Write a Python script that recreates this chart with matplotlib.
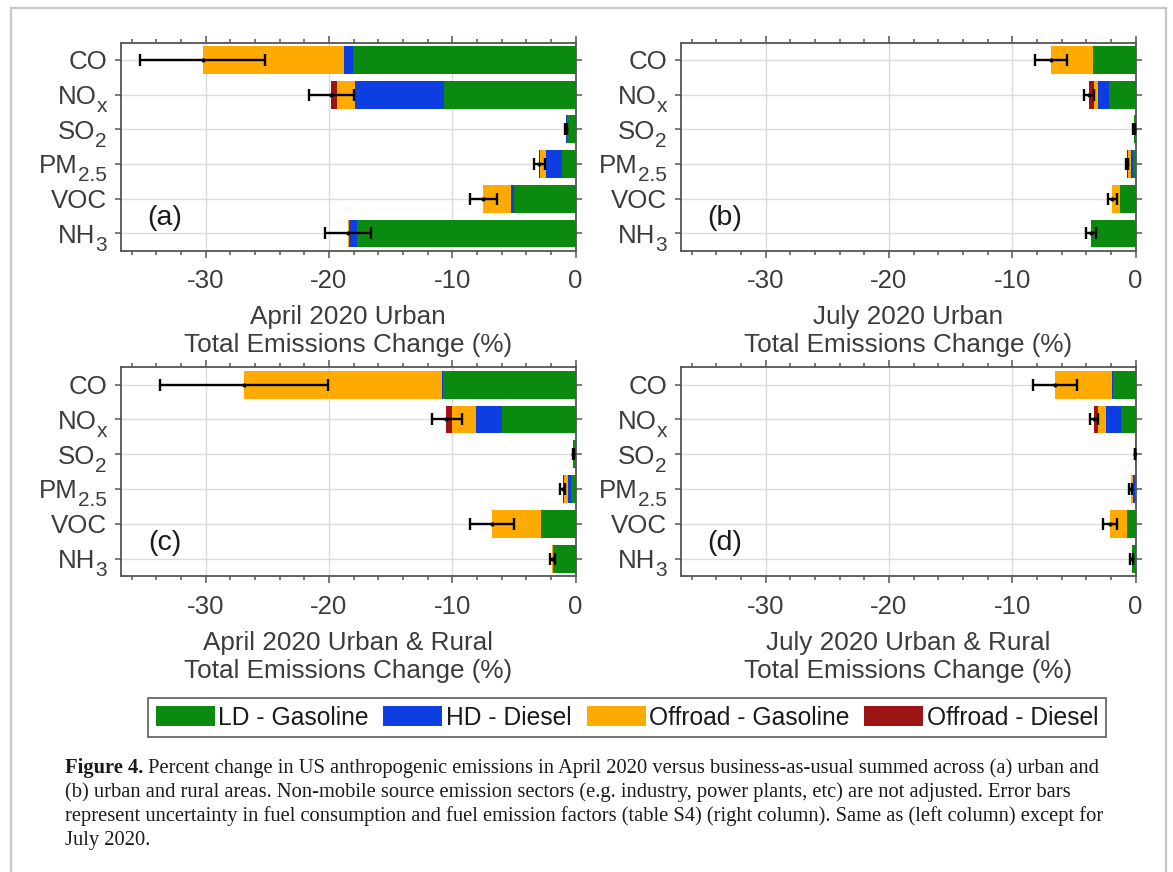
import matplotlib
matplotlib.use("Agg")
import matplotlib.pyplot as plt
import numpy as np
from matplotlib.lines import Line2D

plt.rcParams['font.family'] = ['Liberation Sans', 'DejaVu Sans']
plt.rcParams['mathtext.default'] = 'regular'
plt.rcParams['axes.unicode_minus'] = False

# ---------------- data ----------------
species_main = ['CO', 'NO', 'SO', 'PM', 'VOC', 'NH']
species_sub = ['', 'x', '2', '2.5', '', '3']
sectors = ['LD - Gasoline', 'HD - Diesel', 'Offroad - Gasoline', 'Offroad - Diesel']
colors = ['#0a8a0e', '#0d3ee2', '#ffaa00', '#9c1414']

# (a) April 2020 Urban
a_ld = [-18.05, -10.70, -0.68, -1.08, -5.00, -17.70]
a_hd = [-0.75, -7.20, -0.10, -1.35, -0.22, -0.68]
a_og = [-11.44, -1.45, 0.00, -0.41, -2.27, -0.08]
a_od = [0.00, -0.50, 0.00, -0.13, 0.00, 0.00]
a_lo = [-35.3, -21.65, -0.83, -3.38, -8.57, -20.30]
a_hi = [-25.2, -17.97, -0.73, -2.49, -6.35, -16.60]

# (b) July 2020 Urban
b_ld = [-3.46, -2.16, -0.13, -0.19, -1.22, -3.60]
b_hd = [-0.02, -0.87, 0.00, -0.21, -0.02, -0.05]
b_og = [-3.38, -0.37, 0.00, -0.22, -0.65, 0.00]
b_od = [0.00, -0.41, 0.00, -0.06, 0.00, 0.00]
b_lo = [-8.19, -4.19, -0.18, -0.76, -2.20, -4.00]
b_hi = [-5.54, -3.38, -0.08, -0.57, -1.54, -3.24]

# (c) April 2020 Urban & Rural
c_ld = [-10.76, -5.95, -0.18, -0.35, -2.76, -1.84]
c_hd = [-0.10, -2.13, 0.00, -0.27, -0.03, 0.00]
c_og = [-16.04, -1.92, 0.00, -0.33, -4.02, -0.04]
c_od = [0.00, -0.49, 0.00, -0.08, 0.00, 0.00]
c_lo = [-33.70, -11.68, -0.23, -1.22, -8.57, -2.08]
c_hi = [-20.05, -9.19, -0.13, -0.86, -5.00, -1.68]

# (d) July 2020 Urban & Rural
d_ld = [-1.84, -1.14, -0.03, -0.08, -0.68, -0.32]
d_hd = [-0.05, -1.29, 0.00, -0.16, 0.00, 0.00]
d_og = [-4.62, -0.63, 0.00, -0.11, -1.37, 0.00]
d_od = [0.00, -0.32, 0.00, -0.05, 0.00, 0.00]
d_lo = [-8.30, -3.73, -0.06, -0.51, -2.62, -0.46]
d_hi = [-4.73, -3.03, -0.01, -0.32, -1.49, -0.24]

xlabels = ['April 2020 Urban\nTotal Emissions Change (%)',
           'July 2020 Urban\nTotal Emissions Change (%)',
           'April 2020 Urban & Rural\nTotal Emissions Change (%)',
           'July 2020 Urban & Rural\nTotal Emissions Change (%)']
panel_tags = ['(a)', '(b)', '(c)', '(d)']
xticks = [-30, -20, -10, 0]

caption_lines = [
    ("Figure 4.", " Percent change in US anthropogenic emissions in April 2020 versus business-as-usual summed across (a) urban and"),
    ("", "(b) urban and rural areas. Non-mobile source emission sectors (e.g. industry, power plants, etc) are not adjusted. Error bars"),
    ("", "represent uncertainty in fuel consumption and fuel emission factors (table S4) (right column). Same as (left column) except for"),
    ("", "July 2020."),
]

panels = [
    (a_ld, a_hd, a_og, a_od, a_lo, a_hi),
    (b_ld, b_hd, b_og, b_od, b_lo, b_hi),
    (c_ld, c_hd, c_og, c_od, c_lo, c_hi),
    (d_ld, d_hd, d_og, d_od, d_lo, d_hi),
]

# ---------------- figure ----------------
W, H = 1173, 872
fig = plt.figure(figsize=(W / 100, H / 100), dpi=100)
fig.patch.set_facecolor('white')
renderer = fig.canvas.get_renderer()

def px_axes(x0, y0, x1, y1):
    return fig.add_axes([x0 / W, 1 - y1 / H, (x1 - x0) / W, (y1 - y0) / H])

boxes = [(120.7, 42.7, 575.5, 250.7), (680.7, 42.7, 1135.5, 250.7),
         (120.7, 367.3, 575.5, 576.0), (680.7, 367.3, 1135.5, 576.0)]

txtcol = '#3c3c3c'
spcol = '#555555'
tick_fs = 18.6
sub_fs = 15.0
gap_pt = 9.9
base_pt = 0.716 * tick_fs * 0.5      # half cap height, points
sub_drop_pt = 5.9

handles = None
for k, (box, data) in enumerate(zip(boxes, panels)):
    ax = px_axes(*box)
    ld, hd, og, od, lo, hi = [np.array(v, dtype=float) for v in data]
    y = np.arange(len(species_main))
    left = np.zeros(len(species_main))
    hs = []
    for vals, col, lab in zip([ld, hd, og, od], colors, sectors):
        b = ax.barh(y, vals, left=left, height=0.8, color=col, label=lab,
                    zorder=2, linewidth=0)
        hs.append(b)
        left = left + vals
    total = left
    ax.errorbar(total, y, xerr=[total - lo, hi - total], fmt='.', color='k',
                ms=4, elinewidth=1.7, capsize=4.5, capthick=1.7, zorder=3)
    if handles is None:
        handles = hs
    ax.set_xlim(-36.9, 0)
    ax.set_ylim(5.5, -0.5)
    ax.set_xticks(xticks)
    ax.set_xticks(np.arange(-36, 0.1, 2), minor=True)
    ax.set_yticks(y)
    ax.set_yticklabels([''] * len(y))
    ax.tick_params(axis='both', which='both', direction='out', colors=spcol,
                   labelcolor=txtcol, width=1.1)
    ax.tick_params(axis='x', which='major', length=5, labelsize=tick_fs, pad=8.5,
                   top=True, bottom=True)
    ax.tick_params(axis='x', which='minor', length=2.8, top=True, bottom=True)
    ax.tick_params(axis='y', which='major', length=4, left=True, right=True)
    ax.grid(True, which='major', color='#dcdcdc', linewidth=1.0, zorder=0)
    ax.set_axisbelow(True)
    for s in ax.spines.values():
        s.set_color(spcol)
        s.set_linewidth(1.3)
    ax.set_xlabel(xlabels[k], fontsize=18.8, color=txtcol, labelpad=8.5,
                  linespacing=1.22)
    ax.text(-33.3, 4.55, panel_tags[k], fontsize=20.5, color='#1a1a1a',
            ha='center', va='center', zorder=4)

    # y labels with MATLAB-like subscripts
    trans = ax.get_yaxis_transform()
    for i, (mn, sb) in enumerate(zip(species_main, species_sub)):
        sub_w = 0.0
        if sb:
            ts = ax.annotate(sb, xy=(0, i), xycoords=trans,
                             xytext=(-gap_pt, -base_pt - sub_drop_pt),
                             textcoords='offset points', ha='right', va='baseline',
                             fontsize=sub_fs, color=txtcol, annotation_clip=False)
            sub_w = ts.get_window_extent(renderer).width * 72 / 100
        ax.annotate(mn, xy=(0, i), xycoords=trans,
                    xytext=(-gap_pt - sub_w, -base_pt),
                    textcoords='offset points', ha='right', va='baseline',
                    fontsize=tick_fs, color=txtcol, annotation_clip=False)

leg = fig.legend(handles, sectors, loc='center', ncol=4,
                 bbox_to_anchor=(627 / W, 1 - 717.5 / H), fontsize=17.7,
                 frameon=True, fancybox=False, edgecolor='#333333',
                 handlelength=2.4, handleheight=0.9, handletextpad=0.15,
                 columnspacing=0.6, borderpad=0.3, borderaxespad=0)
leg.get_frame().set_linewidth(1.2)
for t in leg.get_texts():
    t.set_color('#1a1a1a')

# caption
ys = [768, 792, 816, 840]
cap_fs = 14.8
for (bold, rest), yy in zip(caption_lines, ys):
    x0 = 65 / W
    if bold:
        tb = fig.text(x0, 1 - yy / H, bold, fontsize=cap_fs, fontweight='bold',
                      family='Liberation Serif', va='center', ha='left',
                      color='#1a1a1a')
        bb = tb.get_window_extent(renderer)
        x0 = bb.x1 / W
    fig.text(x0, 1 - yy / H, rest, fontsize=cap_fs, family='Liberation Serif',
             va='center', ha='left', color='#1a1a1a')

# outer frame of the figure panel
frame_col = '#c8c8c8'
fig.add_artist(Line2D([10.7 / W, 10.7 / W], [0, 1 - 8 / H], color=frame_col, lw=1.6,
                      transform=fig.transFigure))
fig.add_artist(Line2D([10.7 / W, 1165.7 / W], [1 - 8 / H, 1 - 8 / H], color=frame_col,
                      lw=1.6, transform=fig.transFigure))
fig.add_artist(Line2D([1165.7 / W, 1165.7 / W], [0, 1 - 8 / H], color=frame_col,
                      lw=1.6, transform=fig.transFigure))

fig.savefig('out.png', dpi=100)
